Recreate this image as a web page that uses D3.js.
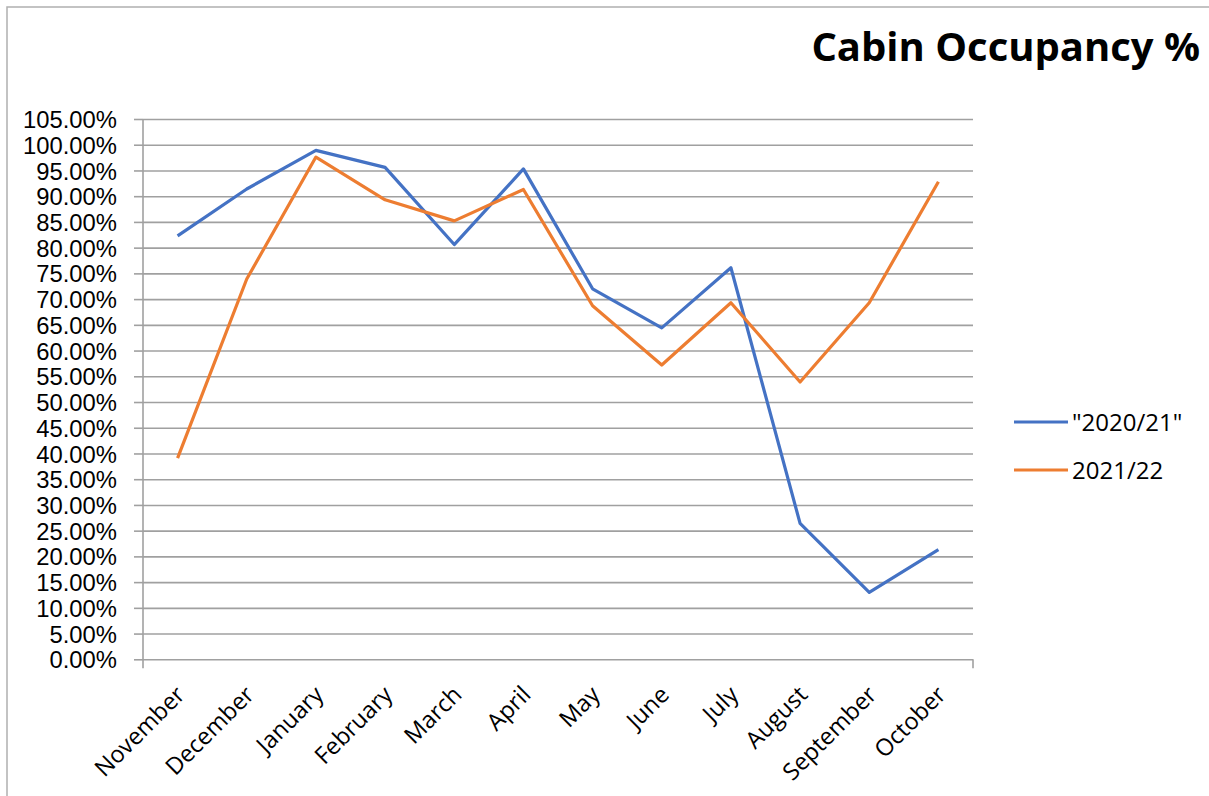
<!DOCTYPE html>
<html>
<head>
<meta charset="utf-8">
<script src="https://cdn.jsdelivr.net/npm/d3@7"></script>
<style>
  html, body { margin: 0; padding: 0; background: #fff; }
  svg { display: block; font-family: "Open Sans", "Noto Sans", sans-serif; }
  .tick text { fill: #000; }
</style>
</head>
<body>
<svg id="chart" width="1209" height="796"></svg>
<script>
// ---- data ----
const months = ['November', 'December', 'January', 'February', 'March', 'April',
                'May', 'June', 'July', 'August', 'September', 'October'];
const occ2021 = [0.823, 0.914, 0.989, 0.956, 0.806, 0.953, 0.720, 0.644, 0.761, 0.264, 0.130, 0.213];
const occ2122 = [0.391, 0.739, 0.976, 0.893, 0.852, 0.913, 0.687, 0.572, 0.693, 0.539, 0.693, 0.928];
const yTicks = [0, 0.05, 0.10, 0.15, 0.20, 0.25, 0.30, 0.35, 0.40, 0.45, 0.50,
                0.55, 0.60, 0.65, 0.70, 0.75, 0.80, 0.85, 0.90, 0.95, 1.00, 1.05];
const seriesNames = ['"2020/21"', '2021/22'];
const seriesColors = ['#4472c4', '#ed7d31'];

const svg = d3.select('#chart');
const W = 1209, H = 796;
const m = { top: 119, right: 236, bottom: 136.7, left: 143 };
const x0 = m.left, x1 = W - m.right, y0 = H - m.bottom, y1 = m.top;

// chart frame
svg.append('rect').attr('x', 7).attr('y', 7).attr('width', 1400).attr('height', 1000)
  .attr('fill', 'none').attr('stroke', '#b0b0b0').attr('stroke-width', 1.5);

const x = d3.scalePoint(months, [x0, x1]).padding(0.5);
const y = d3.scaleLinear([0, 1.05], [y0, y1]);
const fmt = d3.format('.2%');

// y axis with gridlines
const ya = svg.append('g').attr('transform', `translate(${x0},0)`)
  .call(d3.axisLeft(y).tickValues(yTicks).tickFormat(fmt).tickSize(9).tickPadding(17));
ya.select('.domain').remove();
ya.selectAll('.tick line').attr('stroke', '#a0a0a0').attr('stroke-width', 1.6);
ya.selectAll('.tick').append('line').attr('x1', 0).attr('x2', x1 - x0)
  .attr('stroke', '#a0a0a0').attr('stroke-width', 1.6);
ya.selectAll('.tick text').style('font-size', '23.8px').attr('dy', '0.36em');

// vertical axis line + end ticks on category axis
svg.append('line').attr('x1', x0).attr('x2', x0).attr('y1', y1).attr('y2', y0 + 9)
  .attr('stroke', '#a0a0a0').attr('stroke-width', 1.6);
svg.append('line').attr('x1', x1).attr('x2', x1).attr('y1', y0).attr('y2', y0 + 9)
  .attr('stroke', '#a0a0a0').attr('stroke-width', 1.6);

// x labels, rotated
svg.append('g').selectAll('text').data(months).join('text')
  .attr('transform', d => `translate(${x(d) + 3},${y0 + 31}) rotate(-45)`)
  .attr('text-anchor', 'end').attr('dy', '0.35em')
  .style('font-size', '23.5px').text(d => d);

// lines
const line = d3.line().x((v, i) => x(months[i])).y(v => y(v));
[occ2021, occ2122].forEach((s, i) => {
  svg.append('path').datum(s).attr('fill', 'none').attr('stroke', seriesColors[i])
    .attr('stroke-width', 3.2).attr('stroke-linejoin', 'round').attr('d', line);
});

// legend
const lg = svg.append('g').selectAll('g').data(seriesNames).join('g')
  .attr('transform', (d, i) => `translate(1014,${422 + i * 48})`);
lg.append('line').attr('x1', 0).attr('x2', 54).attr('stroke', (d, i) => seriesColors[i])
  .attr('stroke-width', 3.2);
lg.append('text').attr('x', 58).attr('dy', '0.36em').style('font-size', '24px').text(d => d);

// title
svg.append('text').attr('x', 1200).attr('y', 61).attr('text-anchor', 'end')
  .style('font-size', '40px').style('font-weight', 700).text('Cabin Occupancy %');
</script>
</body>
</html>
